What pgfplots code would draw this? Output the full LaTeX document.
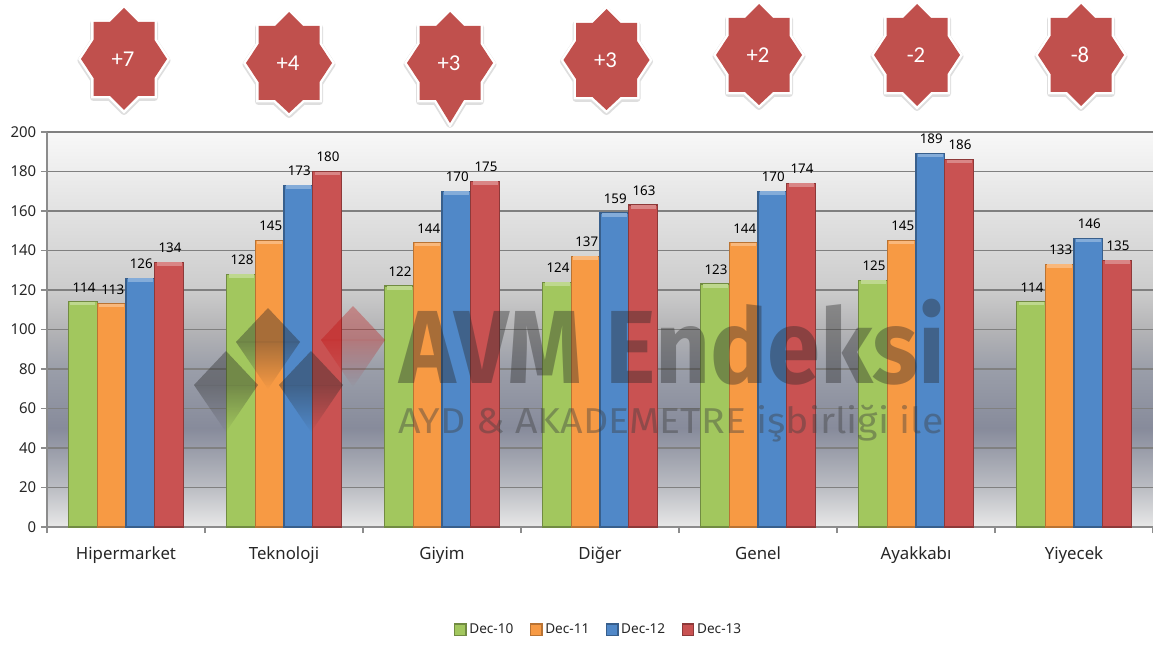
\documentclass[border=0pt]{standalone}
\usepackage{fontspec}
\setmainfont{Noto Sans}
\newfontfamily\starfont{Carlito}
\newfontfamily\markfont{Fira Sans}
\usepackage{pgfplots}
\pgfplotsset{compat=1.18}
\usetikzlibrary{fadings}

% chart background; tikz shows only 25bp..75bp of a shading
\definecolor{bg0}{HTML}{E8E8E8}
\definecolor{bg1}{HTML}{BBBDC3}
\definecolor{bg2}{HTML}{878B9B}
\definecolor{bg3}{HTML}{9A9EA9}
\definecolor{bg4}{HTML}{B4B4B6}
\definecolor{bg5}{HTML}{CCCCCC}
\definecolor{bg6}{HTML}{E2E2E2}
\definecolor{bg7}{HTML}{F8F8F8}
\pgfdeclareverticalshading{plotbg}{100bp}{
  color(0bp)=(bg0);
  color(25bp)=(bg0);
  color(30bp)=(bg1);
  color(37.5bp)=(bg2);
  color(45bp)=(bg3);
  color(50bp)=(bg4);
  color(55bp)=(bg5);
  color(65bp)=(bg6);
  color(75bp)=(bg7);
  color(100bp)=(bg7)}

\definecolor{cgreen}{HTML}{A2C75E}
\definecolor{corange}{HTML}{F79A44}
\definecolor{cblue}{HTML}{5088C8}
\definecolor{cred}{HTML}{C95252}
\definecolor{cstar}{HTML}{C0504D}

\pgfplotstableread{
x  a   b   c   d
0  114 113 126 134
1  128 145 173 180
2  122 144 170 175
3  124 137 159 163
4  123 144 170 174
5  125 145 189 186
6  114 133 146 135
}\avmdata

% one px of the reference
\newlength\px
\setlength\px{0.75pt}

% watermark diamond: centre x, middle y, colour, opacity
\newcommand\diam[4]{%
  \fill[#3, opacity=#4] (#1-32,#2) -- (#1,#2-34) -- (#1+32,#2) -- cycle;
  \fill[#3, opacity=#4, path fading=south] (#1-32,#2) -- (#1+32,#2) -- (#1,#2+47) -- cycle;
}
% eight pointed badge outline, \bt is the depth of its lower point
\newcommand\badgepath{(0,-51) -- (14,-37) -- (30.5,-37) -- (30.5,-19) -- (43,0) -- (30.5,19) -- (30.5,37) -- (14,37)
  -- (0,\bt) -- (-14,37) -- (-30.5,37) -- (-30.5,19) -- (-43,0) -- (-30.5,-19) -- (-30.5,-37) -- (-14,-37) -- cycle}

\begin{document}
\begin{tikzpicture}
\path[use as bounding box] (-47\px,-117\px) rectangle (1106\px,527\px);
\begin{axis}[
    at={(0,0)}, anchor=south west,
    scale only axis,
    width=1106\px, height=395\px,
    ybar, bar width=28.7\px,
    xmin=-0.5, xmax=6.5, ymin=0, ymax=200,
    ytick={0,20,...,200},
    xtick={0,...,6},
    xticklabels={Hipermarket,Teknoloji,Giyim,Diğer,Genel,Ayakkabı,Yiyecek},
    minor xtick={-0.5,0.5,...,6.5},
    major tick length=6\px,
    x tick style={draw=none},
    minor x tick style={draw=black!45, line width=0.8pt},
    y tick style={draw=black!45, line width=0.8pt},
    minor tick length=6\px,
    tick align=outside,
    axis x line*=bottom, axis y line*=left,
    axis line style={draw=black!45, line width=1pt, -},
    ymajorgrids,
    grid style={draw=black!50, line width=0.8pt},
    axis background/.style={shading=plotbg},
    xticklabel style={font=\fontsize{12.6}{14}\selectfont, text=black!85, yshift=-9\px},
    yticklabel style={font=\fontsize{11.2}{13}\selectfont, text=black!85},
    /pgf/number format/assume math mode=true,
    nodes near coords,
    every node near coord/.append style={font=\fontsize{10}{12}\selectfont, text=black, inner sep=1.5pt, yshift=7\px, xshift=1\px},
    legend style={at={(552\px,-103\px)}, anchor=center, draw=none, fill=none,
      legend columns=-1, font=\fontsize{10.2}{12}\selectfont, text=black!85,
      /tikz/every even column/.append style={column sep=14\px}},
    legend cell align=left,
    legend image code/.code={\path[#1] (0,-4pt) rectangle (8.5pt,4.5pt);},
]
\addplot[ybar, bar shift=-43\px, draw=cgreen!70!black, line width=0.9pt, fill=cgreen,
  error bars/.cd, y dir=minus, y fixed=1.8, error mark=none,
  error bar style={line width=25\px, draw=cgreen!70!white}]
  table[x=x,y=a] {\avmdata};
\addplot[ybar, bar shift=-14.3\px, draw=corange!75!black, line width=0.9pt, fill=corange,
  error bars/.cd, y dir=minus, y fixed=1.8, error mark=none,
  error bar style={line width=25\px, draw=corange!70!white}]
  table[x=x,y=b] {\avmdata};
\addplot[ybar, bar shift=14.3\px, draw=cblue!70!black, line width=0.9pt, fill=cblue,
  error bars/.cd, y dir=minus, y fixed=1.8, error mark=none,
  error bar style={line width=25\px, draw=cblue!70!white}]
  table[x=x,y=c] {\avmdata};
\addplot[ybar, bar shift=43\px, draw=cred!70!black, line width=0.9pt, fill=cred,
  error bars/.cd, y dir=minus, y fixed=1.8, error mark=none,
  error bar style={line width=25\px, draw=cred!70!white}]
  table[x=x,y=d] {\avmdata};
\legend{Dec-10,Dec-11,Dec-12,Dec-13}
\end{axis}

% watermark, in px of the reference measured from its top left corner
\begin{scope}[x=1\px,y=-1\px,shift={(-47\px,527\px)}]
  \diam{226}{385}{black!85}{.38}
  \diam{268}{342}{black!85}{.38}
  \diam{311}{385}{black!85}{.38}
  \diam{353}{340}{red!75!black}{.3}
  \node[opacity=.38, text=black!85, anchor=base west, inner sep=0pt, xscale=.92]
    at (399,383) {\markfont\bfseries\fontsize{78}{78}\selectfont AVM Endeksi};
  \node[opacity=.42, text=black!75, anchor=base west, inner sep=0pt, xscale=1.09]
    at (398,433) {\markfont\fontsize{27}{29}\selectfont AYD \& AKADEMETRE işbirliği ile};

  % change badges above the groups
  \foreach \cx/\cy/\bt/\lab in {124/59/51/+7, 289/63/50/+4, 450/63/60/+3, 606.5/60/50/+3, 759/55/50/+2, 917/55/51/-2, 1081/55/51/-8} {
    \begin{scope}[shift={(\cx,\cy)}]
      \draw[black!13, line width=7\px, line join=round, shift={(0,1.5)}] \badgepath;
      \draw[white, line width=5\px, line join=miter] \badgepath;
      \fill[cstar] \badgepath;
      \node[text=white, inner sep=0pt] at (-1,0) {\starfont\fontsize{17}{17}\selectfont \lab};
    \end{scope}
  }
\end{scope}
\end{tikzpicture}
\end{document}
